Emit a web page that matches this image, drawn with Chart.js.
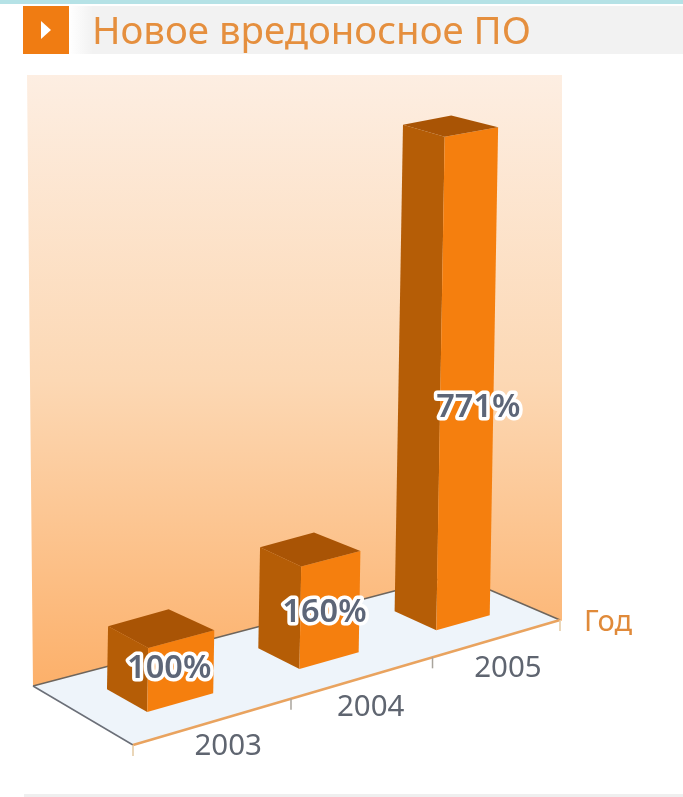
<!DOCTYPE html>
<html lang="ru">
<head>
<meta charset="utf-8">
<title>Новое вредоносное ПО</title>
<script src="https://cdn.jsdelivr.net/npm/chart.js@4"></script>
<style>
  html, body { margin: 0; padding: 0; background: #fff; width: 683px; height: 797px; overflow: hidden; }
  #stripe { position: absolute; left: 0; top: 0; width: 683px; height: 4px; background: #b5e2e6; }
  #band { position: absolute; left: 69px; top: 6px; width: 614px; height: 48px;
    background: linear-gradient(to right, #fff, #f2f2f2 24px); }
  #marker { position: absolute; left: 23px; top: 6px; width: 46px; height: 48px; background: #f07c12; }
  #marker:after { content: ""; position: absolute; left: 18px; top: 15px; border-left: 10px solid #fff;
    border-top: 9px solid transparent; border-bottom: 9px solid transparent; }
  #title { position: absolute; left: 92px; top: 6px; line-height: 46px; font-family: "Noto Sans", sans-serif;
    font-size: 38.4px; color: #e58f3e; white-space: nowrap; }
  #rule { position: absolute; left: 24px; top: 794px; width: 659px; height: 3px; background: #efefef; }
  canvas { position: absolute; left: 0; top: 0; filter: blur(0.7px); }
  #stripe, #band, #marker, #title { filter: blur(0.7px); }
</style>
</head>
<body>
<canvas id="myChart" width="683" height="797"></canvas>
<div id="stripe"></div>
<div id="band"></div>
<div id="marker"></div>
<div id="title">Новое вредоносное ПО</div>
<div id="rule"></div>
<script>
const years = ['2003', '2004', '2005'];
const percents = [100, 160, 771];
const percentLabels = ['100%', '160%', '771%'];
const axisName = 'Год';

// floor corners on screen: front left, front right, back right, back left
const floor = { fl: [133, 745], fr: [560, 620], br: [455, 575], bl: [33, 686] };
const depth = [0.32, 0.72];
const labelShift = [[22, -11], [25, -5], [42, 24]];
const yearShift = [[14, 25], [7, 30], [10, 30]];

// unit square to floor quad
function makeProjection(q) {
    const [x0, y0] = q.fl, [x1, y1] = q.fr, [x2, y2] = q.br, [x3, y3] = q.bl;
    const dx1 = x1 - x2, dx2 = x3 - x2, sx = x0 - x1 + x2 - x3;
    const dy1 = y1 - y2, dy2 = y3 - y2, sy = y0 - y1 + y2 - y3;
    const den = dx1 * dy2 - dx2 * dy1;
    const g = (sx * dy2 - dx2 * sy) / den;
    const h = (dx1 * sy - sx * dy1) / den;
    const a = x1 - x0 + g * x1, b = x3 - x0 + h * x3;
    const d = y1 - y0 + g * y1, e = y3 - y0 + h * y3;
    return (u, v) => {
        const w = 1 + g * u + h * v;
        return [(a * u + b * v + x0) / w, (d * u + e * v + y0) / w];
    };
}
const project = makeProjection(floor);

function poly(ctx, pts, fill) {
    ctx.beginPath();
    pts.forEach((p, i) => i ? ctx.lineTo(p[0], p[1]) : ctx.moveTo(p[0], p[1]));
    ctx.closePath();
    ctx.fillStyle = fill;
    ctx.fill();
}

function line(ctx, a, b, color, width) {
    ctx.beginPath();
    ctx.moveTo(a[0], a[1]);
    ctx.lineTo(b[0], b[1]);
    ctx.strokeStyle = color;
    ctx.lineWidth = width;
    ctx.stroke();
}

const scene3d = {
    id: 'scene3d',
    beforeDatasetsDraw(chart) {
        const ctx = chart.ctx;
        const area = chart.chartArea;
        const xScale = chart.scales.x;
        const toU = px => (px - area.left) / area.width;

        // back wall
        const wall = ctx.createLinearGradient(0, area.top, 0, floor.bl[1]);
        wall.addColorStop(0, '#fdeee2');
        wall.addColorStop(0.5, '#fcd8b4');
        wall.addColorStop(1, '#fcb06a');
        poly(ctx, [[area.left, area.top], [area.right, area.top], [area.right, floor.fr[1] + 1],
            floor.br, floor.bl], wall);

        // floor and its edges
        poly(ctx, [floor.fl, floor.fr, floor.br, floor.bl], '#eef4fa');
        line(ctx, floor.bl, floor.br, '#6e655c', 1.5);
        line(ctx, floor.bl, floor.fl, '#6b6f78', 1.5);
        line(ctx, floor.br, floor.fr, '#6e655c', 1.5);
        line(ctx, floor.fl, floor.fr, '#e9a35f', 2.5);

        // ticks on category borders
        const step = xScale.getPixelForValue(1) - xScale.getPixelForValue(0);
        for (let i = 0; i <= years.length; i++) {
            const p = project(toU(xScale.getPixelForValue(i) - step / 2), 0);
            line(ctx, p, [p[0], p[1] + 11], i % 3 ? '#a9a49c' : '#e3c8a0', 1.5);
        }

        ctx.textAlign = 'center';
        ctx.textBaseline = 'middle';
        ctx.font = '29.5px "Noto Sans", sans-serif';
        ctx.fillStyle = '#5f6570';
        years.forEach((year, i) => {
            const p = project(toU(xScale.getPixelForValue(i)), 0);
            ctx.fillText(year, p[0] + yearShift[i][0], p[1] + yearShift[i][1]);
        });
        ctx.font = '29px "Noto Sans", sans-serif';
        ctx.fillStyle = '#e08a3a';
        ctx.fillText(axisName, floor.fr[0] + 48, floor.fr[1] + 3);

        // bars, using the positions chart.js worked out
        const bars = chart.getDatasetMeta(0).data;
        bars.forEach((bar, i) => {
            const u0 = toU(bar.x - bar.width / 2), u1 = toU(bar.x + bar.width / 2);
            const front = project(u0, depth[0]);
            const right = project(u1, depth[0]);
            const left = project(u0, depth[1]);
            const back = project(u1, depth[1]);
            back[0] -= 5;
            const h = bar.base - bar.y;
            const lean = h * 0.017;
            const squash = 1 - h * 0.00073;
            const up = c => [c[0] + lean, front[1] - h + (c[1] - front[1]) * squash];
            poly(ctx, [left, front, up(front), up(left)], '#b55d06');
            poly(ctx, [front, right, up(right), up(front)], '#f57f0e');
            poly(ctx, [up(left), up(front), up(right), up(back)], '#a95405');
        });

        ctx.font = '600 32.5px "Noto Sans", sans-serif';
        ctx.lineJoin = 'round';
        bars.forEach((bar, i) => {
            const front = project(toU(bar.x - bar.width / 2), depth[0]);
            const h = bar.base - bar.y;
            const x = front[0] + labelShift[i][0];
            const y = front[1] - h / 2 + labelShift[i][1];
            ctx.strokeStyle = '#ffffff';
            ctx.lineWidth = 7;
            ctx.strokeText(percentLabels[i], x, y);
            ctx.fillStyle = '#5d6678';
            ctx.fillText(percentLabels[i], x, y);
        });
        return false;
    }
};

new Chart(document.getElementById('myChart').getContext('2d'), {
    type: 'bar',
    data: {
        labels: years,
        datasets: [{
            label: 'Новое вредоносное ПО',
            data: percents,
            backgroundColor: '#f57f0e',
            barPercentage: 0.42,
            categoryPercentage: 1
        }]
    },
    options: {
        responsive: false,
        animation: false,
        layout: { padding: { left: 27, right: 121, top: 75, bottom: 82 } },
        scales: {
            x: { display: false },
            y: { display: false, min: 0, max: 1000 }
        },
        plugins: { legend: { display: false }, tooltip: { enabled: false } }
    },
    plugins: [scene3d]
});
</script>
</body>
</html>
